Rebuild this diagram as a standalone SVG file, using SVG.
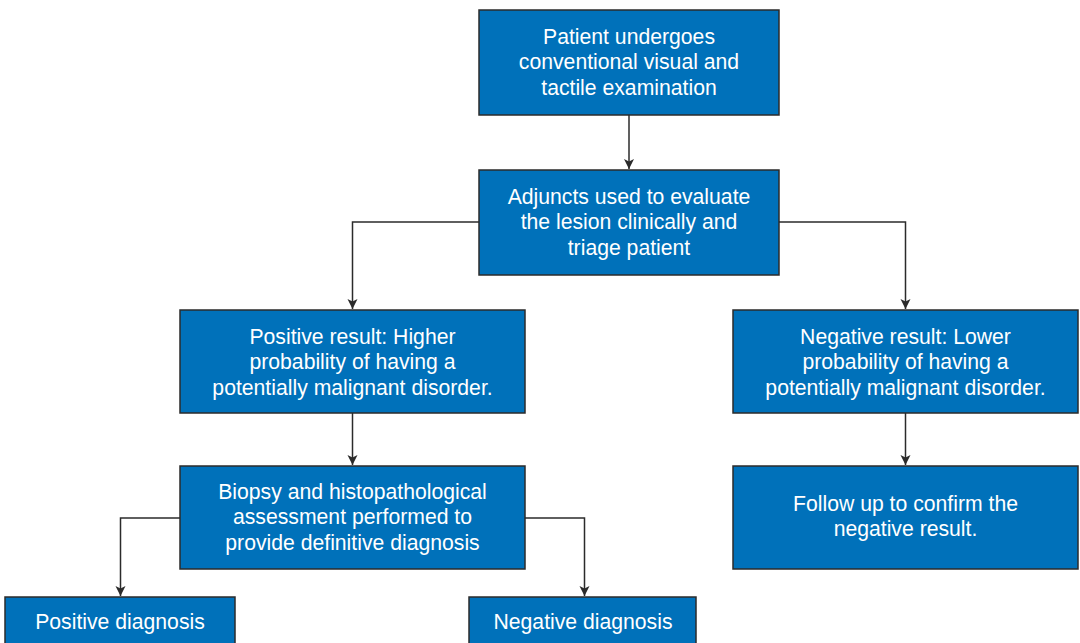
<svg xmlns="http://www.w3.org/2000/svg" width="1080" height="643" viewBox="0 0 1080 643">
<style>
.box{fill:#0071BA;stroke:#2b2b2b;stroke-width:1.5}
.t{font-family:"Liberation Sans",Arial,sans-serif;font-size:21.2px;fill:#ffffff;text-anchor:middle}
.c{fill:none;stroke:#2b2b2b;stroke-width:1.5}
</style>
<defs>
<marker id="ah" markerWidth="10" markerHeight="12" refX="10" refY="6" orient="auto" markerUnits="userSpaceOnUse">
<path d="M0,1 L10,6 L0,11 L2.5,6 Z" fill="#2b2b2b"/>
</marker>
</defs>
<rect width="1080" height="643" fill="#ffffff"/>
<g id="connectors">
<path class="c" d="M629,115 V169" marker-end="url(#ah)"/>
<path class="c" d="M479,222 H352.5 V309" marker-end="url(#ah)"/>
<path class="c" d="M779,222 H905.5 V309" marker-end="url(#ah)"/>
<path class="c" d="M352.5,413 V465" marker-end="url(#ah)"/>
<path class="c" d="M905.5,413 V465" marker-end="url(#ah)"/>
<path class="c" d="M180,518 H120.5 V596" marker-end="url(#ah)"/>
<path class="c" d="M525,518 H584.5 V596" marker-end="url(#ah)"/>
</g>
<g id="n1">
<rect class="box" x="479" y="10" width="300" height="105"/>
<text class="t" x="629" y="44">Patient undergoes</text>
<text class="t" x="629" y="69">conventional visual and</text>
<text class="t" x="629" y="95">tactile examination</text>
</g>
<g id="n2">
<rect class="box" x="479" y="170" width="300" height="105"/>
<text class="t" x="629" y="204">Adjuncts used to evaluate</text>
<text class="t" x="629" y="229">the lesion clinically and</text>
<text class="t" x="629" y="255">triage patient</text>
</g>
<g id="n3">
<rect class="box" x="180" y="310" width="345" height="103"/>
<text class="t" x="352.5" y="344">Positive result: Higher</text>
<text class="t" x="352.5" y="369">probability of having a</text>
<text class="t" x="352.5" y="395">potentially malignant disorder.</text>
</g>
<g id="n4">
<rect class="box" x="733" y="310" width="345" height="103"/>
<text class="t" x="905.5" y="344">Negative result: Lower</text>
<text class="t" x="905.5" y="369">probability of having a</text>
<text class="t" x="905.5" y="395">potentially malignant disorder.</text>
</g>
<g id="n5">
<rect class="box" x="180" y="466" width="345" height="103"/>
<text class="t" x="352.5" y="499">Biopsy and histopathological</text>
<text class="t" x="352.5" y="524">assessment performed to</text>
<text class="t" x="352.5" y="550">provide definitive diagnosis</text>
</g>
<g id="n6">
<rect class="box" x="733" y="466" width="345" height="103"/>
<text class="t" x="905.5" y="511">Follow up to confirm the</text>
<text class="t" x="905.5" y="536">negative result.</text>
</g>
<g id="n7">
<rect class="box" x="5" y="597" width="230" height="60"/>
<text class="t" x="120" y="629">Positive diagnosis</text>
</g>
<g id="n8">
<rect class="box" x="469" y="597" width="227" height="60"/>
<text class="t" x="583" y="629">Negative diagnosis</text>
</g>
</svg>
